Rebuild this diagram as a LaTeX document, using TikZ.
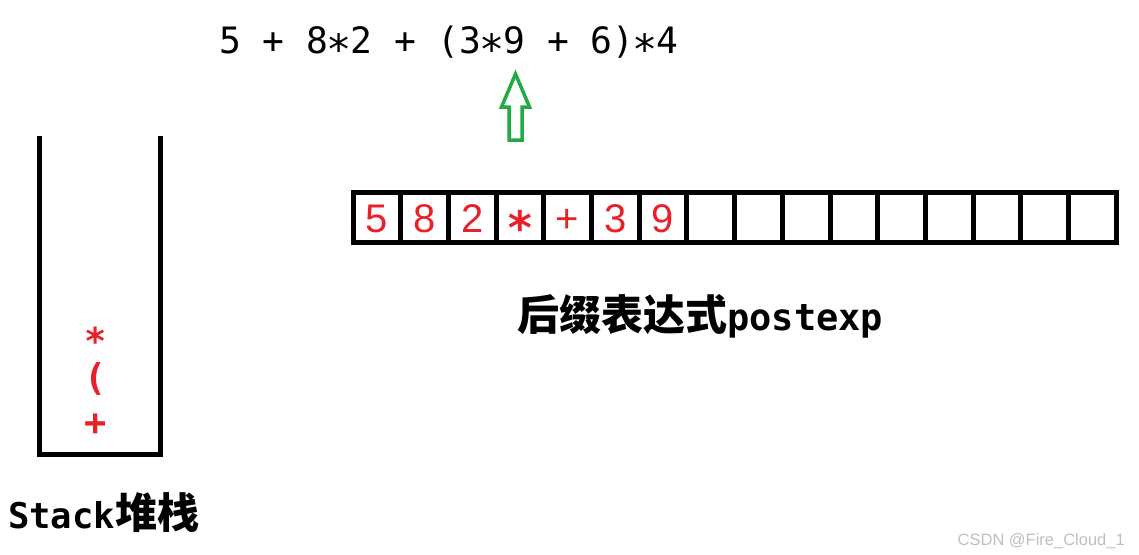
\documentclass[tikz,border=0pt]{standalone}
\usepackage{fontspec}
\usepackage{graphicx}
\setmonofont{DejaVu Sans Mono}
\newfontfamily\cjk{Noto Sans CJK SC}
\newfontfamily\arialish{Liberation Sans}
\usetikzlibrary{positioning}
\definecolor{opred}{RGB}{232,32,42}
\definecolor{ptrgreen}{RGB}{34,170,68}
\newcommand{\midast}{\makebox[\fontcharwd\font`*]{\raisebox{-.32em}{\scalebox{1.15}{*}}}}

\begin{document}
\begin{tikzpicture}[x = 1pt, y = -1pt, node distance = 47.7pt, on grid, cell/.style = {draw, line width = 5pt, minimum width = 47.7pt, minimum height = 50pt, inner sep = 0pt, text height = 29pt, text depth = 0pt, text = opred, font = \arialish\fontsize{40}{40}\selectfont}, op/.style = {text = opred, inner sep = 0pt, text height = 28pt, text depth = 9pt, font = \ttfamily\bfseries\fontsize{37}{37}\selectfont}, heading/.style = {anchor = base west, inner sep = 0pt, font = \bfseries}]
\useasboundingbox (0,0) rectangle (1139,554);

\node[anchor = base, inner sep = 0pt, font = \ttfamily\fontsize{36.3}{40}\selectfont] (expr) at (448.7,53) {5 + 8\midast2 + (3\midast9 + 6)\midast4};

\coordinate (ptr) at (515.5,74);
\draw[ptrgreen, line width = 3.5pt, line join = miter] (ptr) -- ++(14,33) -- ++(-7.5,0) -- ++(0,33) -- ++(-13,0) -- ++(0,-33) -- ++(-7.5,0) -- cycle;

\node[cell] (c1) at (376.85,217.5) {5};
\node[cell, right of=c1] (c2) {8};
\node[cell, right of=c2] (c3) {2};
\node[cell, right of=c3] (c4) {\ttfamily\bfseries\midast};
\node[cell, right of=c4] (c5) {+};
\node[cell, right of=c5] (c6) {3};
\node[cell, right of=c6] (c7) {9};
\node[cell, right of=c7] (c8) {};
\node[cell, right of=c8] (c9) {};
\node[cell, right of=c9] (c10) {};
\node[cell, right of=c10] (c11) {};
\node[cell, right of=c11] (c12) {};
\node[cell, right of=c12] (c13) {};
\node[cell, right of=c13] (c14) {};
\node[cell, right of=c14] (c15) {};
\node[cell, right of=c15] (c16) {};

\node[heading] (postexp) at (517,330) {\cjk\fontsize{42}{44}\selectfont 后缀表达式\ttfamily\fontsize{37}{40}\selectfont postexp};

\coordinate (stack-tl) at (39,136);
\coordinate (stack-bl) at (39,454);
\coordinate (stack-br) at (160.5,454);
\coordinate (stack-tr) at (160.5,136);
\draw[line width = 5pt, line join = miter] (stack-tl) -- (stack-bl) -- (stack-br) -- (stack-tr);

\node[op] (s1) at (96,426) {+};
\node[op, above=45pt of s1] (s2) {(};
\node[op, above=36pt of s2] (s3) {*};

\node[heading] (stack) at (8,528) {\ttfamily\fontsize{35.5}{40}\selectfont Stack\cjk\fontsize{42}{44}\selectfont 堆栈};

\node[anchor = base east, inner sep = 0pt, text = black!25, font = \arialish\fontsize{16.5}{18}\selectfont] (mark) at (1125,545) {CSDN @Fire\_Cloud\_1};
\end{tikzpicture}
\end{document}
